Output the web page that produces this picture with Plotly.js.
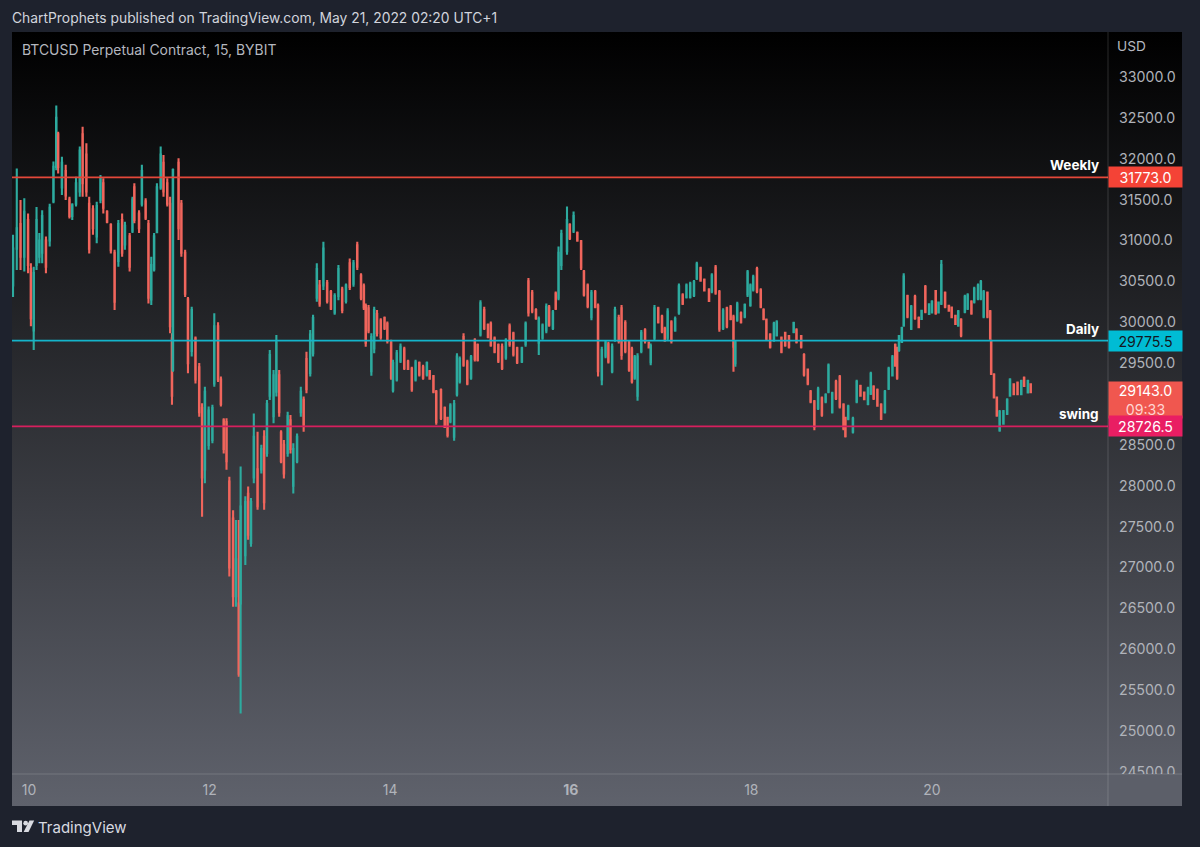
<!DOCTYPE html>
<html>
<head>
<meta charset="utf-8">
<script src="https://cdn.plot.ly/plotly-3.0.1.min.js"></script>
<style>
html,body{margin:0;padding:0;background:#1e222d;width:1200px;height:847px;overflow:hidden}
#panel{position:absolute;left:12px;top:32px;width:1170px;height:774px;background:linear-gradient(to bottom,#000000 0%,#5f626c 100%)}
#chart{position:absolute;left:0;top:0;width:1200px;height:847px}
</style>
</head>
<body>
<div id="panel"></div>
<div id="chart"></div>
<script>
// Hours after 2022-05-10 00:00 for each candle
const hours = [-4.25,-3.25,-2.25,-1.25,-0.25,0.5,1.25,2,2.75,3.5,4.5,5.5,6.5,7.25,7.75,8.75,9.75,10.75,11.5,12.5,13.5,14.25,15.25,16,17,18,19,19.75,20.75,21.75,22.75,23.75,24.75,25.5,26.75,27.5,28,29.25,30,31,31.75,32.5,33.25,34,35,35.75,36.75,37.5,38,38.25,39.75,40.5,41.5,42.25,43.25,44.25,
45.25,46,46.75,47.75,48.75,49.25,50.25,51,51.75,52.5,53.25,54.25,55,55.75,56.25,57.5,58.25,59,59.75,60.75,61.75,62.5,63.25,64,65,65.75,66.5,67,67.75,68.75,69.5,70.25,71.25,72.25,73,73.75,74.75,
75.5,76.5,77.25,78.25,79.25,80.25,81.25,82.25,83.25,84.25,85.25,86.25,87.25,88.25,89,89.5,90.25,91,91.75,92.5,93.5,94.5,95.25,96.25,96.75,97.75,98.75,99.75,100.75,101.75,102.75,103.75,104.75,105.75,106.5,107.5,108.25,109.5,110.5,111.25,112,113,113.75,114.5,115.5,116.5,117.5,118.5,119.25,120,121,122,122.75,123.75,124.75,125.75,126.75,127.75,128.75,129.75,131,132,132.75,133.75,134.75,135.5,136.5,137.5,138.25,139.25,140,140.75,141.5,143,143.75,144.75,145.75,146.75,147.5,148.5,
149.5,150.5,151.25,152.25,153.25,154,155,155.75,156.75,157.5,158.5,159.5,160.25,161,161.75,162.75,163.75,164.75,165.25,166.25,167.25,168.25,169,169.75,170.75,171.75,172.75,173.75,174.75,175.75,176.75,177.5,178.5,179.5,180.75,181.5,182.5,183.5,184.5,185.5,186.5,187.25,187.75,188.25,189.25,190.25,191,191.75,192.5,193.5,194.5,195.25,196,197,198,198.75,200,201,202,203.25,204,205.25,206,207,207.75,208.75,209.75,210.75,211.75,212.5,213.5,214.5,215.5,216.5,217,217.75,219,220,221,222,223,
223.75,224.5,225.5,226.5,227.5,228.5,229.5,230.25,230.75,231.25,232,232.5,233.5,234.5,235.5,236.5,237.25,238.25,239.25,240,241,241.75,242.5,243.5,244.5,245.25,246.25,247,247.75,248.75,249.5,250.5,251.25,252.25,253,253.75,254.75,255.5,255.75,256.5,257.25,258,259,260,260.75,261.75,262.75,263.75,264.5,265.5,266.25];
const opens = [30450,30900,31200,30800,31250,30650,29900,30700,30800,30850,31000,31000,31480,31900,32300,31650,31850,31500,31300,31450,31600,32300,32050,31450,31380,31050,31500,31700,31350,31190,30850,30750,31250,30950,31050,31120,31650,31330,31450,31480,31200,30280,30650,31100,31650,31950,31700,31450,29800,29415,31950,31450,30850,30280,29650,29800,
29450,28950,28200,28500,28560,29250,29950,29300,28800,28780,28050,27600,26650,26560,26560,27150,27900,27300,28100,28200,28200,28600,28400,29100,28850,29150,29350,28650,28500,28400,28800,28000,28300,28900,29050,29550,29380,
29620,30300,30450,30450,30480,30370,30120,30320,30400,30260,30720,30470,30940,30570,30440,30200,30170,29400,29680,30100,30020,30050,29980,29750,29170,29300,29530,29670,29520,29430,29300,29500,29450,29360,29400,29340,29150,29170,28950,28830,28790,28600,29120,29280,29820,29510,29320,29780,29720,29850,30150,29970,29980,29800,29720,29700,29570,29950,29860,29680,29520,29730,30500,30360,30150,29750,29810,29900,30180,29930,30350,30300,30700,30870,31190,31120,31090,30990,30620,30450,
30060,30370,30200,29300,29590,29730,29400,29800,30050,30170,29990,29750,29670,29320,29100,29650,29900,29750,29510,29810,30170,30070,29920,29810,30000,29900,30120,30330,30310,30310,30330,30540,30660,30520,30400,30380,30670,30370,29930,30170,30190,30060,29500,30030,30110,30070,30340,30210,30400,30650,30390,30150,30030,29850,29780,29840,29810,29870,29830,29880,29900,29830,29600,29420,29150,29030,28950,29070,29030,29150,28900,29270,29330,28990,28830,28820,28660,29030,29220,29140,29000,
29130,29210,29170,28990,28900,29190,29350,29720,29680,29660,29760,29960,30320,29920,30310,30050,30040,30430,30100,30120,30380,30120,30230,30360,30200,30180,30080,29960,30030,30130,30170,30250,30250,30290,30290,30070,30360,30130,29770,29360,29080,28680,28760,28880,29100,29240,29260,29120,29320,29140,29240];
const highs = [31070,31880,31495,31515,31330,30720,30680,31410,31090,31370,31050,31450,31965,32650,32330,32025,31925,31535,31455,31780,32150,32390,32190,31535,31430,31475,31800,31760,31370,31210,30885,31250,31330,31230,31090,31535,31700,31370,31925,31515,31250,30800,31090,31700,32150,32045,31760,31535,29865,31880,32005,31495,30885,30310,30190,29825,
29500,29010,29210,28970,28990,30110,30000,29335,28825,28825,28110,27700,27580,27580,28235,27870,27990,27850,28885,28660,28500,28680,29050,29660,29415,29845,29415,28680,28560,28905,28865,28520,28640,29210,29090,29640,29905,
30090,30720,30515,30985,30515,30395,30355,30700,30435,30475,30780,30760,30985,30600,30475,30230,30210,29865,30190,30150,30050,30070,30010,29785,29540,29660,29740,29700,29540,29455,29540,29520,29480,29520,29415,29355,29170,29190,28970,28845,29010,29050,29620,29580,29865,29540,29600,29805,29740,30270,30190,29985,30010,29825,29740,29740,29805,29985,29885,29700,29700,30010,30540,30395,30170,30070,29985,30230,30210,30150,30375,30925,31130,31415,31210,31355,31110,31005,30640,30475,
30395,30395,30230,29700,29780,29760,29740,30190,30090,30210,30025,29780,29700,29600,29620,29905,29925,29760,29740,30210,30190,30090,29945,30170,30025,30070,30475,30355,30475,30495,30515,30740,30680,30535,30415,30600,30700,30395,30170,30190,30210,30090,29780,30250,30130,30230,30640,30475,30580,30680,30415,30170,30045,29865,30005,30025,29825,29885,29845,30005,29925,29845,29620,29435,29170,29050,29210,29090,29130,29495,29150,29295,29355,29010,28845,28990,28845,29295,29235,29150,29210,
29395,29230,29190,29010,29170,29455,29600,29740,29700,29845,29945,30600,30335,30210,30335,30070,30150,30455,30230,30270,30395,30250,30760,30375,30210,30190,30090,30150,30050,30335,30355,30270,30435,30475,30515,30395,30375,30150,29785,29375,29090,28925,28925,29070,29315,29255,29275,29295,29335,29295,29255];
const lows = [30310,30640,30640,30620,30600,29950,29660,30640,30720,30720,30600,30925,31455,31860,31820,31555,31495,31270,31250,31415,31535,31535,31535,30840,31070,30965,31455,31330,31210,30840,30150,30680,30800,30885,30620,31090,31210,31090,31415,31250,30230,30210,30620,31090,31620,31535,31415,29865,28990,29395,31005,30800,30310,29375,29580,29250,
28845,27620,28030,28440,28520,29210,29270,28970,28395,28195,26890,26520,26520,25665,25215,27030,27340,27255,28030,27705,28150,27705,28355,29050,28765,29090,28845,28275,28090,28355,28395,27905,28275,28845,28660,29130,29335,
29580,30250,30190,30395,30230,30150,30090,30270,30110,30230,30395,30435,30640,30270,30150,29700,29865,29345,29620,29825,29785,29905,29740,29295,29140,29275,29500,29415,29415,29150,29275,29335,29295,29335,29295,29130,28745,28805,28705,28590,28765,28550,29090,29250,29455,29230,29295,29520,29520,29825,29905,29805,29700,29620,29500,29415,29540,29700,29580,29490,29500,29700,30070,30110,30030,29600,29785,29865,29945,29905,30150,30270,30640,30825,31005,31090,30985,30640,30315,30170,
30025,30170,29335,29230,29560,29495,29375,29760,29740,29540,29620,29395,29250,29295,29040,29620,29740,29680,29475,29780,29985,29865,29760,29780,29740,29885,30090,30210,30290,30290,30310,30515,30495,30375,30250,30355,30335,29885,29905,29925,30025,29395,29455,30005,29985,30050,30310,30190,30375,30355,30170,30025,29780,29680,29760,29825,29620,29700,29680,29865,29740,29680,29335,29230,29010,28680,28925,28845,29010,29130,28885,29050,28945,28680,28590,28800,28640,29010,29090,29050,28985,
29110,29050,28965,28805,28885,29170,29335,29455,29295,29640,29745,29945,30050,29905,30030,29925,30030,30110,30090,30110,30090,30110,30210,30170,30130,30050,29965,29945,29815,30110,30150,30090,30230,30270,30270,30050,30050,29785,29355,29070,28845,28660,28745,28865,29090,29110,29110,29110,29210,29130,29140];
const closes = [30900,31150,30800,31350,30700,30050,30600,31250,31000,31300,30680,31400,31900,32500,31900,31950,31550,31300,31430,31700,32100,31700,31600,30900,31150,31420,31750,31400,31230,30880,30250,31200,30850,31180,30680,31500,31250,31150,31850,31280,30300,30700,31050,31650,32050,31600,31450,29950,29100,31860,31150,30850,30350,29500,30150,29300,
28900,28100,29150,28920,28950,29950,29300,29000,28450,28300,27000,26650,27100,25700,27745,27800,27400,27800,28600,27750,28450,27800,29000,29600,29350,29750,28900,28300,28150,28850,28450,28450,28600,29150,28750,29180,29850,
30050,30650,30230,30900,30260,30170,30320,30650,30150,30450,30430,30720,30680,30300,30180,29750,29900,29820,30150,29870,29820,29930,29770,29320,29500,29620,29700,29440,29430,29180,29510,29360,29320,29500,29310,29150,28780,28830,28720,28620,28980,29000,29580,29550,29480,29250,29570,29550,29540,30230,29930,29820,29720,29640,29530,29440,29780,29730,29610,29510,29680,29980,30120,30140,30050,30040,29960,30190,29970,30120,30170,30850,31080,31250,31030,31300,31000,30670,30340,30200,
30360,30190,29400,29660,29750,29520,29700,30150,29770,29600,29650,29420,29280,29570,29580,29870,29770,29690,29710,30170,30000,29890,29780,30130,29770,30040,30440,30230,30450,30470,30490,30710,30510,30390,30260,30570,30360,29920,30140,29950,30040,29700,29750,30220,30000,30210,30610,30450,30550,30380,30190,30040,29800,29700,29980,30000,29640,29720,29700,29990,29760,29700,29360,29250,29030,28720,29180,28870,29110,29470,29130,29070,28970,28700,28610,28970,28820,29270,29100,29060,29190,
29370,29070,28980,28820,29150,29430,29570,29470,29320,29830,29930,30560,30070,30190,30050,29940,30140,30130,30220,30250,30110,30240,30700,30190,30140,30060,29980,30130,29840,30310,30330,30110,30410,30450,30490,30370,30070,29800,29370,29080,28860,28900,28910,29050,29300,29120,29120,29280,29220,29280,29143];

// Horizontal levels
const levelNames = ["Weekly","Daily","swing"];
const levelValues = [31773,29775.5,28726.5];
const levelLabels = ["31773.0","29775.5","28726.5"];
const levelLineColors = ["#e5483a","#14b4ca","#d81f5e"];
const levelTagColors = ["#f44336","#00bcd4","#e91e63"];
const levelTextColors = ["#ffffff","#131722","#ffffff"];
const lastPrice = 29143;
const lastPriceLabel = "29143.0";
const countdown = "09:33";

// Axis ticks
const priceTicks = [24500,25000,25500,26000,26500,27000,27500,28000,28500,29000,29500,30000,30500,31000,31500,32000,32500,33000];
const dayHours = [0,48,96,144,192,240];
const dayLabels = ["10","12","14","<b>16</b>","18","20"];

const BASE = Date.UTC(2022,4,10);
const toDate = h => new Date(BASE + h*3600000).toISOString().slice(0,19).replace('T',' ');
const W = 1096, H = 742;
const px = x => (x-12)/W;
const py = y => (774-y)/H;
const FONT = 'Inter, "Open Sans", sans-serif';

const shapes = [];
levelValues.forEach((v,i)=>shapes.push({type:'line',xref:'paper',yref:'y',x0:0,x1:1,y0:v,y1:v,line:{color:levelLineColors[i],width:1.7},layer:'above'}));
// strip hiding the cut-off lower part of the bottom price label
shapes.push({type:'rect',xref:'paper',yref:'paper',x0:1,x1:px(1182),y0:py(806),y1:py(774),fillcolor:'#5c5f69',line:{width:0},layer:'above'});
// separators
shapes.push({type:'line',xref:'paper',yref:'paper',x0:1,x1:1,y0:py(806),y1:py(32),line:{color:'rgba(255,255,255,0.16)',width:1},layer:'above'});
shapes.push({type:'line',xref:'paper',yref:'paper',x0:0,x1:px(1182),y0:0,y1:0,line:{color:'rgba(255,255,255,0.16)',width:1},layer:'above'});
// TradingView logo
const poly = pts => 'M'+pts.map(p=>px(p[0]).toFixed(5)+','+py(p[1]).toFixed(5)).join(' L')+' Z';
const logo = {type:'path',xref:'paper',yref:'paper',fillcolor:'#d8dae0',line:{width:0},layer:'above'};
shapes.push(Object.assign({},logo,{path:poly([[12,820.5],[22,820.5],[22,832],[17,832],[17,825],[12,825]])}));
shapes.push(Object.assign({},logo,{type:'circle',x0:px(23.3),x1:px(28),y0:py(825.5),y1:py(820.8)}));
shapes.push(Object.assign({},logo,{path:poly([[29.5,820.5],[34.2,820.5],[28.5,832],[23.6,832]])}));

const annotations = [];
const tag = (y,text,bg,color,extra) => Object.assign({xref:'paper',yref:'y',x:1,y:y,xanchor:'left',yanchor:'middle',text:text,showarrow:false,bgcolor:bg,width:73,height:20,borderpad:0,align:'center',font:{family:FONT,size:14.2,color:color}},extra||{});
annotations.push(tag(lastPrice,lastPriceLabel+'<br><span style="color:#ffd5d2">'+countdown+'</span>','#f0574f','#ffffff',{yshift:-8,height:36}));
levelValues.forEach((v,i)=>{
  annotations.push(tag(v,levelLabels[i],levelTagColors[i],levelTextColors[i]));
  annotations.push({xref:'paper',yref:'y',x:px(1101),y:v,xanchor:'right',yanchor:'bottom',yshift:2,text:'<b>'+levelNames[i]+'</b>',showarrow:false,font:{family:FONT,size:13.5,color:'#ffffff'}});
});
annotations.push({xref:'paper',yref:'paper',x:px(20),y:py(49),xanchor:'left',yanchor:'middle',text:'BTCUSD Perpetual Contract, 15, BYBIT',showarrow:false,font:{family:FONT,size:13.95,color:'#b4b7bf'}});
annotations.push({xref:'paper',yref:'paper',x:px(1115),y:py(46),xanchor:'left',yanchor:'middle',text:'USD',showarrow:false,font:{family:FONT,size:13.7,color:'#b4b7bf'}});
annotations.push({xref:'paper',yref:'paper',x:px(36),y:py(827),xanchor:'left',yanchor:'middle',text:'TradingView',showarrow:false,font:{family:FONT,size:15,color:'#d8dae0'}});

const trace = {
  type:'candlestick',
  x:hours.map(toDate), open:opens, high:highs, low:lows, close:closes,
  increasing:{line:{color:'#2dab9f',width:2.1},fillcolor:'#2dab9f'},
  decreasing:{line:{color:'#f0655c',width:2.1},fillcolor:'#f0655c'},
  whiskerwidth:0, hoverinfo:'skip', showlegend:false
};
const layout = {
  width:1200,height:847,autosize:false,
  paper_bgcolor:'rgba(0,0,0,0)',plot_bgcolor:'rgba(0,0,0,0)',
  margin:{l:12,r:92,t:32,b:73,pad:0},
  showlegend:false,
  title:{text:'ChartProphets published on TradingView.com, May 21, 2022 02:20 UTC+1',x:12/1200,xanchor:'left',xref:'container',y:1-18/847,yanchor:'middle',yref:'container',font:{family:FONT,size:13.85,color:'#d1d4dc'}},
  xaxis:{type:'date',range:[toDate(-4.52),toDate(286.8)],rangeslider:{visible:false},showgrid:false,zeroline:false,showline:false,ticks:'',
    tickmode:'array',tickvals:dayHours.map(toDate),ticktext:dayLabels,tickfont:{family:FONT,size:14,color:'#b0b3ba'},ticklabelstandoff:6,fixedrange:true},
  yaxis:{side:'right',range:[24474,33550],showgrid:false,zeroline:false,showline:false,ticks:'',
    tickmode:'array',tickvals:priceTicks,ticktext:priceTicks.map(v=>v.toFixed(1)),tickfont:{family:FONT,size:14.2,color:'#b0b3ba'},ticklabelstandoff:10,fixedrange:true},
  shapes:shapes,annotations:annotations
};
Plotly.newPlot('chart',[trace],layout,{displayModeBar:false,staticPlot:true});
</script>
</body>
</html>
